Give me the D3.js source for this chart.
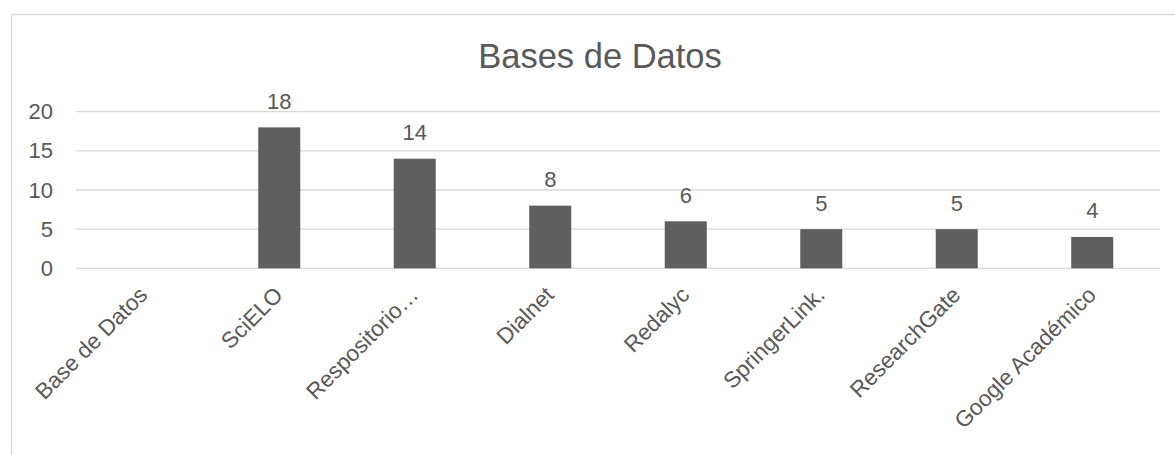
<!DOCTYPE html>
<html>
<head>
<meta charset="utf-8">
<script src="https://cdn.jsdelivr.net/npm/d3@7"></script>
<style>
  body { margin: 0; background: #fff; }
  text { font-family: "Liberation Sans", Arial, sans-serif; fill: #595959; }
</style>
</head>
<body>
<script>
// Data
var categories = ["Base de Datos", "SciELO", "Respositorio…", "Dialnet", "Redalyc", "SpringerLink.", "ResearchGate", "Google Académico"];
var values = [null, 18, 14, 8, 6, 5, 5, 4];
var yTicks = [0, 5, 10, 15, 20];
var title = "Bases de Datos";

var W = 1175, H = 455;
var margin = {top: 111.7, left: 76, right: 15, bottom: 186.7};
var width = W - margin.left - margin.right,
    height = H - margin.top - margin.bottom;

var svg = d3.select("body").append("svg")
    .attr("width", W)
    .attr("height", H);

// chart frame
svg.append("rect")
   .attr("x", 11.5).attr("y", 14.5)
   .attr("width", W + 20).attr("height", H + 20)
   .attr("fill", "none")
   .attr("stroke", "#d9d9d9")
   .attr("stroke-width", 1.3);

svg.append("text")
   .attr("x", 600).attr("y", 67.5)
   .attr("text-anchor", "middle")
   .style("font-size", "34.5px")
   .text(title);

var g = svg.append("g")
    .attr("transform", "translate(" + margin.left + "," + margin.top + ")");

var xScale = d3.scaleBand().domain(categories).range([0, width]).paddingInner(0.69).paddingOuter(0.345);
var xBand = d3.scaleBand().domain(categories).range([0, width]);
var yScale = d3.scaleLinear().domain([0, 20]).range([height, 0]);

// gridlines
g.selectAll(".grid")
 .data(yTicks)
 .enter().append("line")
 .attr("x1", 0).attr("x2", width)
 .attr("y1", d => yScale(d)).attr("y2", d => yScale(d))
 .attr("stroke", "#d9d9d9")
 .attr("stroke-width", 1.3);

// y axis labels
var yAxis = d3.axisLeft(yScale).tickValues(yTicks).tickSize(0).tickPadding(23);
var ya = g.append("g").call(yAxis);
ya.select(".domain").remove();
ya.selectAll("text").style("font-size", "22px").attr("fill", "#595959").style("font-family", "Liberation Sans, Arial, sans-serif");

// bars
var bars = categories.map((c, i) => ({cat: c, v: values[i]})).filter(d => d.v != null);

g.selectAll(".bar")
 .data(bars)
 .enter().append("rect")
 .attr("x", d => xScale(d.cat))
 .attr("width", xScale.bandwidth())
 .attr("y", d => yScale(d.v))
 .attr("height", d => height - yScale(d.v))
 .attr("fill", "#5f5f5f");

g.selectAll(".lbl")
 .data(bars)
 .enter().append("text")
 .attr("x", d => xBand(d.cat) + xBand.bandwidth() / 2)
 .attr("y", d => yScale(d.v) - 18.5)
 .attr("text-anchor", "middle")
 .style("font-size", "22px")
 .text(d => d.v);

// x axis labels, rotated
g.selectAll(".xl")
 .data(categories)
 .enter().append("text")
 .attr("transform", d => "translate(" + (xBand(d) + xBand.bandwidth() / 2 + 5) + "," + (height + 28) + ") rotate(-45)")
 .attr("text-anchor", "end")
 .style("font-size", "22.5px")
 .text(d => d);
</script>
</body>
</html>
